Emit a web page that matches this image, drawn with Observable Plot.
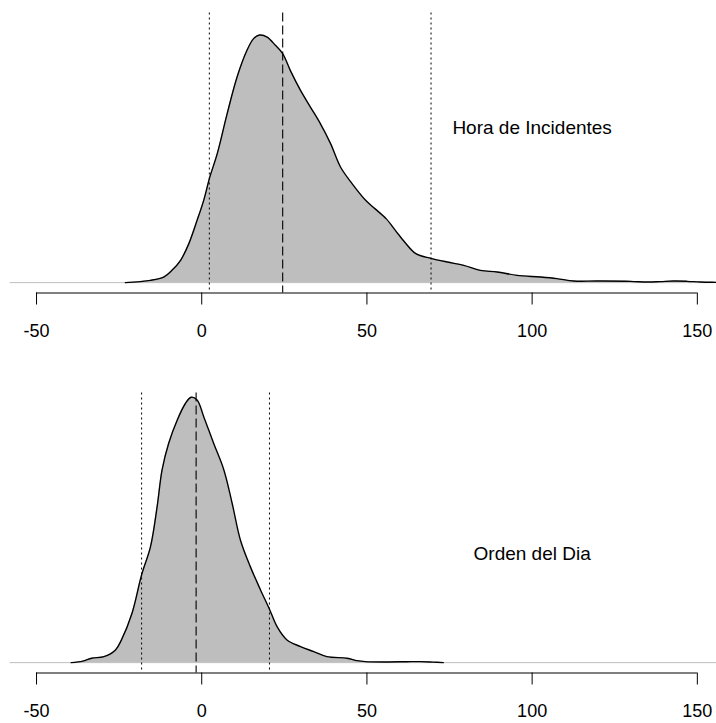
<!DOCTYPE html>
<html>
<head>
<meta charset="utf-8">
<script src="https://cdn.jsdelivr.net/npm/d3@7"></script>
<script src="https://cdn.jsdelivr.net/npm/@observablehq/plot@0.6"></script>
<style>
  body { margin: 0; background: #fff; }
  #chart { width: 716px; overflow: hidden; }
  #chart svg { display: block; overflow: hidden; }
</style>
</head>
<body>
<div id="chart"></div>
<script>
// Tick labels of the x axis
const tickValues = [-50, 0, 50, 100, 150];

// Panel 1: "Hora de Incidentes" density
const topLabel = "Hora de Incidentes";
const topX = [-23.1, -15.5, -11.5, -9.0, -6.4, -3.9, -1.4, 0.6, 2.4, 4.7,
  7.7, 10.7, 13.7, 15.7, 17.5, 19.8, 22.3, 24.5, 26.8, 29.9,
  32.9, 35.9, 39.0, 42.0, 45.5, 49.6, 52.4, 55.8, 58.6, 61.4,
  64.8, 69.4, 74.3, 79.3, 84.3, 89.4, 95.4, 102.5, 107.5, 112.6,
  119.6, 129.7, 134.8, 138.8, 142.8, 146.9, 150.9, 155.7, 160, 166];
const topDensity = [0, 0.00023, 0.00056, 0.00123, 0.00223, 0.0039, 0.00623, 0.00823, 0.0105, 0.0129,
  0.0169, 0.02056, 0.02323, 0.0244, 0.02476, 0.02456, 0.02373, 0.0229, 0.02123, 0.01923,
  0.01756, 0.0159, 0.0139, 0.01156, 0.0099, 0.00823, 0.0074, 0.0064, 0.00523, 0.00406,
  0.0029, 0.00243, 0.00206, 0.00173, 0.00123, 0.00106, 0.00073, 0.00056, 0.0004, 0.00016,
  0.00016, 0.00013, 0.00006, 0.0001, 0.00016, 0.00013, 0.00006, 0.00003, 0.00001, 0];
// lower bound (dotted), centre (dashed), upper bound (dotted)
const topStats = [2.3, 24.5, 69.4];

// Panel 2: "Orden del Dia" density
const bottomLabel = "Orden del Dia";
const bottomX = [-39.5, -36, -33.3, -29.6, -26.1, -24.3, -21.1, -18.2, -15.5, -13.5,
  -12.0, -10.0, -7.4, -4.9, -3.2, -1.4, 0.6, 3.6, 6.7, 9.2,
  11.7, 14.7, 17.8, 20.6, 22.8, 25.8, 29.9, 33.9, 37.9, 44.0,
  47.0, 49.5, 56.5, 62.0, 66.2, 70.0, 73.1];
const bottomDensity = [0, 0.00015, 0.00044, 0.0006, 0.00127, 0.00227, 0.00494, 0.00877, 0.0116, 0.0156,
  0.01927, 0.02194, 0.02427, 0.02594, 0.02654, 0.02627, 0.0246, 0.02194, 0.01927, 0.01594,
  0.01227, 0.0096, 0.00727, 0.00527, 0.0036, 0.00227, 0.0016, 0.0011, 0.0006, 0.00044,
  0.0002, 0.0001, 0.00007, 0.00009, 0.0001, 0.00005, 0];
const bottomStats = [-18.2, -1.7, 20.5];

// shared axis limits (R-style: xlim -50..150 padded 4%, ylim 0..ymax padded 4%)
const yMax = 0.025926;
const yDomain = [-0.04 * yMax, 1.04 * yMax];
const xDomain = [-58, 155.8];

function panel(xs, ds, stats, label, labelPos, height, marginBottom) {
  const data = xs.map((x, i) => ({x, d: ds[i]}));
  return Plot.plot({
    width: 716,
    height,
    marginLeft: 9.6,
    marginRight: 0,
    marginTop: 12.5,
    marginBottom,
    x: {domain: xDomain, axis: null, label: null},
    y: {domain: yDomain, axis: null, label: null},
    style: {fontFamily: "'Liberation Sans', Arial, Helvetica, sans-serif", background: "white", color: "black"},
    marks: [
      Plot.ruleY([0], {stroke: "#bebebe", strokeWidth: 1}),
      Plot.areaY(data, {x: "x", y: "d", fill: "#bebebe", curve: "catmull-rom", clip: true}),
      Plot.lineY(data, {x: "x", y: "d", stroke: "black", strokeWidth: 1.4, curve: "catmull-rom", clip: true}),
      Plot.ruleX([stats[0], stats[2]], {stroke: "black", strokeWidth: 1, strokeDasharray: "2,3"}),
      Plot.ruleX([stats[1]], {stroke: "black", strokeWidth: 1.1, strokeDasharray: "9,4"}),
      Plot.ruleY([yDomain[0]], {x1: () => tickValues[0], x2: () => tickValues[tickValues.length - 1], stroke: "black", strokeWidth: 1}),
      Plot.axisX(tickValues, {anchor: "bottom", label: null, tickSize: 12, tickPadding: 19, fontSize: 18, tickFormat: d => String(d), stroke: "black", fill: "black"}),
      Plot.text([label], {x: () => labelPos[0], y: () => labelPos[1], text: d => d, fontSize: 19, fill: "black"})
    ]
  });
}

const chart = document.getElementById("chart");
chart.appendChild(panel(topX, topDensity, topStats, topLabel, [100, 0.01545], 380, 87.5));
chart.appendChild(panel(bottomX, bottomDensity, bottomStats, bottomLabel, [100, 0.01087], 343, 50.5));
</script>
</body>
</html>
